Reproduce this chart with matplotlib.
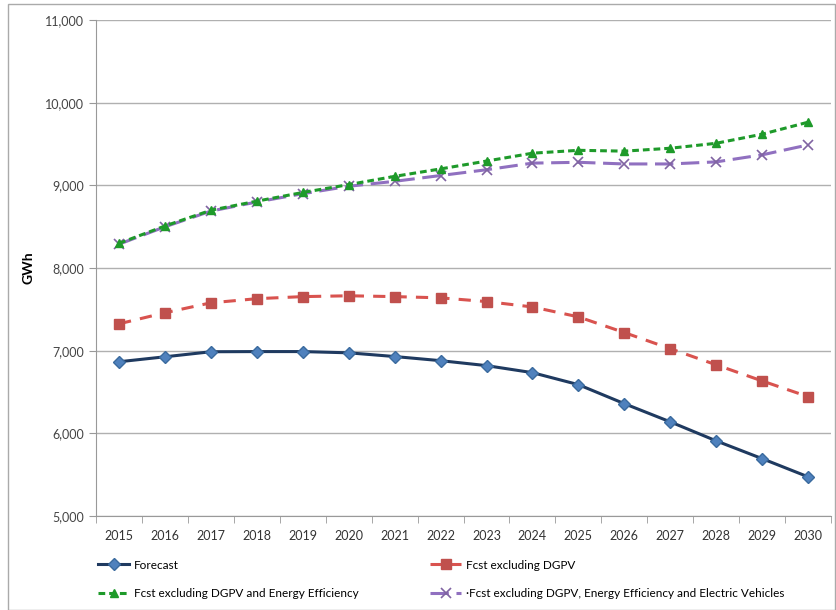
import matplotlib
matplotlib.use("Agg")
import matplotlib.pyplot as plt
from matplotlib.patches import Rectangle
from matplotlib.ticker import FuncFormatter, FixedLocator

years = list(range(2015, 2031))
forecast = [6867, 6927, 6988, 6990, 6990, 6975, 6930, 6880, 6820, 6735, 6590, 6360, 6140, 5910, 5695, 5475]
excl_dgpv = [7326, 7460, 7580, 7630, 7655, 7665, 7655, 7640, 7595, 7530, 7410, 7220, 7025, 6830, 6635, 6445]
excl_dgpv_ee = [8300, 8510, 8700, 8810, 8915, 9010, 9110, 9200, 9295, 9390, 9425, 9415, 9450, 9510, 9620, 9765]
excl_dgpv_ee_ev = [8290, 8500, 8690, 8800, 8900, 8990, 9050, 9120, 9190, 9270, 9280, 9260, 9260, 9285, 9370, 9490]

plt.rcParams['font.family'] = ['Lato', 'DejaVu Sans']

fig = plt.figure(figsize=(8.36, 6.10), dpi=100)
ax = fig.add_axes([0.115, 0.154, 0.879, 0.813])

x = list(range(len(years)))

l1, = ax.plot(x, forecast, color='#1f3a60', lw=2.2, marker='D', ms=6,
              mfc='#4f81bd', mec='#3a6a9e', label='Forecast', zorder=4)
l2, = ax.plot(x, excl_dgpv, color='#d9534f', lw=2.2, ls=(0, (4, 3)), marker='s', ms=7,
              mfc='#c0504d', mec='#c0504d', label='Fcst excluding DGPV', zorder=3)
l3, = ax.plot(x, excl_dgpv_ee, color='#1e9a2a', lw=2.2, ls=(0, (2.2, 1.3)), marker='^', ms=6,
              mfc='#1e9a2a', mec='#1e9a2a', label='Fcst excluding DGPV and Energy Efficiency', zorder=3)
l4, = ax.plot(x, excl_dgpv_ee_ev, color='#9070c0', lw=2.2, ls=(0, (6, 2.5)), marker='x', ms=7,
              mew=1.2, mec='#8064a2', label='\u00b7Fcst excluding DGPV, Energy Efficiency and Electric Vehicles', zorder=2)

ax.set_xlim(-0.5, len(years) - 0.5)
ax.set_ylim(5000, 11000)
ax.set_yticks(range(5000, 11001, 1000))
ax.yaxis.set_major_formatter(FuncFormatter(lambda v, p: '{:,.0f}'.format(v)))
ax.set_xticks(x)
ax.set_xticklabels([str(y) for y in years])
ax.xaxis.set_minor_locator(FixedLocator([i - 0.5 for i in range(len(years) + 1)]))
ax.tick_params(axis='x', which='major', length=0, labelsize=9, colors='#333333', pad=10)
ax.tick_params(axis='x', which='minor', length=5, color='#999999')
ax.tick_params(axis='y', length=5, color='#999999', labelsize=9, labelcolor='#444444')

ax.grid(axis='y', color='#b0b0b0', lw=1)
ax.set_axisbelow(True)
for s in ['top', 'right']:
    ax.spines[s].set_visible(False)
for s in ['left', 'bottom']:
    ax.spines[s].set_color('#999999')

ax.set_ylabel('GWh', fontsize=10, fontweight='bold', labelpad=8)

fig.legend([l1, l3, l2, l4], [l.get_label() for l in [l1, l3, l2, l4]],
           ncol=2, loc='upper left', bbox_to_anchor=(0.105, 0.1), frameon=False,
           fontsize=8.5, handlelength=2.6, columnspacing=6.1, labelspacing=1.5,
           handletextpad=0.4)

fig.patches.append(Rectangle((0.009, 0.0), 0.99, 0.994, transform=fig.transFigure,
                             fill=False, ec='#aaaaaa', lw=1))

fig.savefig('out.png', dpi=100)
